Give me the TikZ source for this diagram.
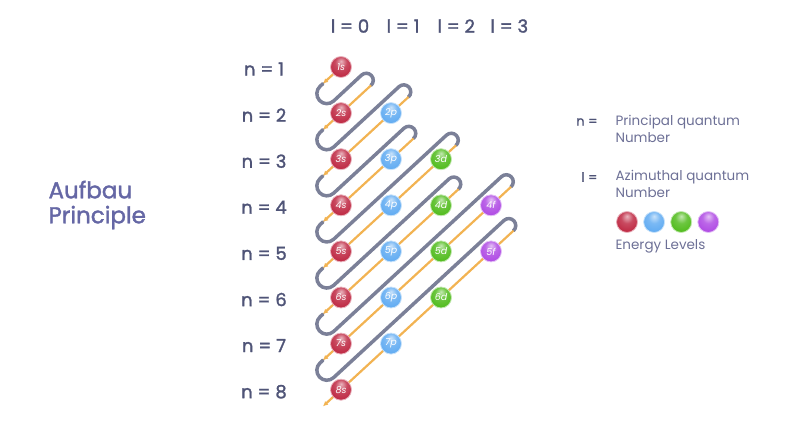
\documentclass[tikz,border=0pt]{standalone}
\usepackage{fontspec}
\setmainfont{Poppins}
\newfontfamily\labelfont{Poppins}[FakeBold=1.6]
\usetikzlibrary{arrows.meta, positioning, calc, backgrounds}
\definecolor{labelgray}{HTML}{4F5477}
\definecolor{titleblue}{HTML}{6567A5}
\definecolor{legendgray}{HTML}{6D7096}
\definecolor{tubegray}{HTML}{7B8098}
\definecolor{laneorange}{HTML}{F2B352}
\definecolor{sred}{HTML}{BF2A44}
\definecolor{pblue}{HTML}{62ACF2}
\definecolor{dgreen}{HTML}{52BC1E}
\definecolor{fpurple}{HTML}{B04CE4}

\makeatletter
\pgfdeclareradialshading[tikz@ball]{orbball}{\pgfqpoint{0bp}{14bp}}{%
  color(0bp)=(tikz@ball!35!white); color(14bp)=(tikz@ball!85!white);
  color(30bp)=(tikz@ball); color(44bp)=(tikz@ball!80!black);
  color(60bp)=(tikz@ball!70!black)}
\makeatother

\begin{document}
\begin{tikzpicture}[x=1pt, y=1pt, node distance=46.1pt,
                    orb/.style={circle,
                      minimum size=21pt,
                      inner sep=0pt,
                      line width=0.8pt,
                      text=white,
                      font=\itshape\fontsize{9.5}{9.5}\selectfont},
                    s orb/.style={orb, ball color=sred, shading=orbball, draw=sred!35!white},
                    p orb/.style={orb, ball color=pblue, shading=orbball, draw=pblue!35!white},
                    d orb/.style={orb, ball color=dgreen, shading=orbball, draw=dgreen!35!white},
                    f orb/.style={orb, ball color=fpurple, shading=orbball, draw=fpurple!35!white},
                    nlab/.style={text=labelgray, font=\labelfont\fontsize{18}{18}\selectfont},
                    legend/.style={text=legendgray, align=left, font=\fontsize{13.5}{17}\selectfont},
                    tube/.style={draw=tubegray, line width=3.5pt, line cap=round},
                    lane/.style={draw=laneorange, line width=2.2pt, -{Latex[length=5pt, width=5pt]}}]

  \useasboundingbox (0,0) rectangle (800,423);

  % orbitals
  \node[s orb] (1s) at (341,356) {1s};
  \node[s orb] (2s) [below of=1s] {2s};
  \node[s orb] (3s) [below of=2s] {3s};
  \node[s orb] (4s) [below of=3s] {4s};
  \node[s orb] (5s) [below of=4s] {5s};
  \node[s orb] (6s) [below of=5s] {6s};
  \node[s orb] (7s) [below of=6s] {7s};
  \node[s orb] (8s) [below of=7s] {8s};
  \node[p orb] (2p) [right of=2s, xshift=3.9pt] {2p};
  \node[p orb] (3p) [right of=3s, xshift=3.9pt] {3p};
  \node[p orb] (4p) [right of=4s, xshift=3.9pt] {4p};
  \node[p orb] (5p) [right of=5s, xshift=3.9pt] {5p};
  \node[p orb] (6p) [right of=6s, xshift=3.9pt] {6p};
  \node[p orb] (7p) [right of=7s, xshift=3.9pt] {7p};
  \node[d orb] (3d) [right of=3p, xshift=3.9pt] {3d};
  \node[d orb] (4d) [right of=4p, xshift=3.9pt] {4d};
  \node[d orb] (5d) [right of=5p, xshift=3.9pt] {5d};
  \node[d orb] (6d) [right of=6p, xshift=3.9pt] {6d};
  \node[f orb] (4f) [right of=4d, xshift=3.9pt] {4f};
  \node[f orb] (5f) [right of=5d, xshift=3.9pt] {5f};

  % row and column labels
  \node[nlab] (n1) at (264,354) {n = 1};
  \node[nlab] (n2) [below of=n1] {n = 2};
  \node[nlab] (n3) [below of=n2] {n = 3};
  \node[nlab] (n4) [below of=n3] {n = 4};
  \node[nlab] (n5) [below of=n4] {n = 5};
  \node[nlab] (n6) [below of=n5] {n = 6};
  \node[nlab] (n7) [below of=n6] {n = 7};
  \node[nlab] (n8) [below of=n7] {n = 8};
  \node[nlab] (l0) at (350,397) {l = 0};
  \node[nlab] (l1) [right of=l0, xshift=7pt] {l = 1};
  \node[nlab] (l2) [right of=l1, xshift=7pt] {l = 2};
  \node[nlab] (l3) [right of=l2, xshift=7pt] {l = 3};

  \node (title) [anchor=west, align=left, text=titleblue, font=\labelfont\fontsize{23}{25}\selectfont] at (45,218) {Aufbau\\Principle};

  % legend
  \node[nlab, anchor=east, font=\labelfont\fontsize{13}{13}\selectfont] (nkey) at (601,301) {n =};
  \node[legend, anchor=north west] (ntext) at (612,311) {Principal quantum\\Number};
  \node[nlab, anchor=east, font=\labelfont\fontsize{13}{13}\selectfont] (lkey) at (601,246) {l =};
  \node[legend, anchor=north west] (ltext) at (612,256) {Azimuthal quantum\\Number};
  \node[s orb] (ks) at (627,201) {};
  \node[p orb] (kp) [right of=ks, xshift=-19pt] {};
  \node[d orb] (kd) [right of=kp, xshift=-19pt] {};
  \node[f orb] (kf) [right of=kd, xshift=-19pt] {};
  \node[legend, anchor=west] (energy) at (612,177) {Energy Levels};

  % lane ends
  \coordinate (t1) at ($(1s)+(-18,-16.6)$);
  \coordinate (t2) at ($(2s)+(-18,-16.6)$);
  \coordinate (t3) at ($(3s)+(-18,-16.6)$);
  \coordinate (t4) at ($(4s)+(-18,-16.6)$);
  \coordinate (t5) at ($(5s)+(-18,-16.6)$);
  \coordinate (t6) at ($(6s)+(-18,-16.6)$);
  \coordinate (t7) at ($(7s)+(-18,-16.6)$);
  \coordinate (t8) at ($(8s)+(-18,-16.6)$);
  \coordinate (a2) at ($(2s)+(30,27.7)$);
  \coordinate (a3) at ($(2p)+(17.5,16.1)$);
  \coordinate (a4) at ($(3p)+(22.5,20.7)$);
  \coordinate (a5) at ($(3d)+(15,13.8)$);
  \coordinate (a6) at ($(4d)+(17.5,16.1)$);
  \coordinate (a7) at ($(4f)+(20,18.4)$);
  \coordinate (a8) at ($(5f)+(22.5,20.7)$);

  \begin{scope}[on background layer]
    \draw[tube] (t1) -- ++(-2.94,-2.71) arc[start angle=132.68, end angle=312.68, radius=10]
      -- ($(a2)+(-9.49,10.29)$) arc[start angle=132.68, end angle=-47.32, radius=7];
    \draw[tube] (t2) -- ++(-2.94,-2.71) arc[start angle=132.68, end angle=312.68, radius=10]
      -- ($(a3)+(-9.49,10.29)$) arc[start angle=132.68, end angle=-47.32, radius=7];
    \draw[tube] (t3) -- ++(-2.94,-2.71) arc[start angle=132.68, end angle=312.68, radius=10]
      -- ($(a4)+(-9.49,10.29)$) arc[start angle=132.68, end angle=-47.32, radius=7];
    \draw[tube] (t4) -- ++(-2.94,-2.71) arc[start angle=132.68, end angle=312.68, radius=10]
      -- ($(a5)+(-9.49,10.29)$) arc[start angle=132.68, end angle=-47.32, radius=7];
    \draw[tube] (t5) -- ++(-2.94,-2.71) arc[start angle=132.68, end angle=312.68, radius=10]
      -- ($(a6)+(-9.49,10.29)$) arc[start angle=132.68, end angle=-47.32, radius=7];
    \draw[tube] (t6) -- ++(-2.94,-2.71) arc[start angle=132.68, end angle=312.68, radius=10]
      -- ($(a7)+(-9.49,10.29)$) arc[start angle=132.68, end angle=-47.32, radius=7];
    \draw[tube] (t7) -- ++(-2.94,-2.71) arc[start angle=132.68, end angle=312.68, radius=10]
      -- ($(a8)+(-9.49,10.29)$) arc[start angle=132.68, end angle=-47.32, radius=7];

    \draw[lane] (1s.center) -- (t1);
    \draw[lane] (a2) -- (t2);
    \draw[lane] (a3) -- (t3);
    \draw[lane] (a4) -- (t4);
    \draw[lane] (a5) -- (t5);
    \draw[lane] (a6) -- (t6);
    \draw[lane] (a7) -- (t7);
    \draw[lane] (a8) -- (t8);
  \end{scope}
\end{tikzpicture}
\end{document}
